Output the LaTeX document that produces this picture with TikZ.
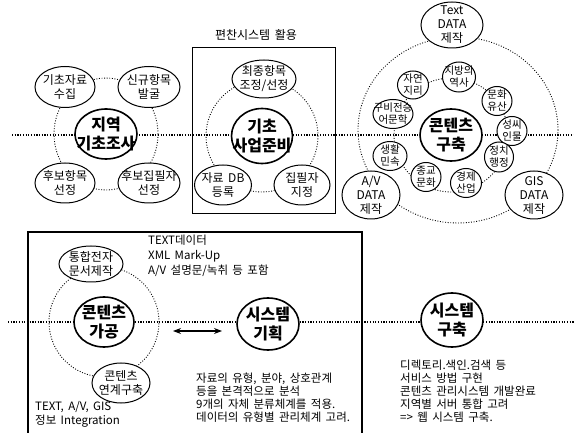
\documentclass[tikz,border=0pt]{standalone}
\usepackage{fontspec}
\setmainfont[WordSpace=1.7]{Noto Sans CJK KR}
\usetikzlibrary{shapes.geometric,arrows.meta}
\begin{document}
\begin{tikzpicture}[x=1pt,y=-1pt,
 dotline/.style={line width=1.2pt, dash pattern=on 1.2pt off 1.5pt},
 ring/.style={line width=0.9pt, dash pattern=on 0.9pt off 1.7pt},
 mainlab/.style={font=\fontsize{16}{19}\selectfont\bfseries, align=center, inner sep=0pt},
 mainnode/.style={ellipse, draw, fill=white, line width=1.6pt, inner sep=0pt, label={[mainlab]center:#1}},
 satlab/.style={font=\fontsize{12}{14}\selectfont, align=center, inner sep=0pt},
 sat/.style={ellipse, draw, fill=white, line width=1pt, inner sep=0pt, label={[satlab]center:#1}},
 smlab/.style={font=\fontsize{10.5}{12}\selectfont, align=center, inner sep=0pt},
 small/.style={ellipse, draw, fill=white, line width=1pt, inner sep=0pt, label={[smlab]center:#1}},
 txt/.style={font=\fontsize{11.5}{13}\selectfont, align=left, inner sep=0pt, anchor=north west},
 box/.style={draw, line width=1.3pt}
]
\useasboundingbox[fill=white] (0,0) rectangle (574,433);

% horizontal dotted axes
\coordinate (tl) at (12,135);
\coordinate (tr) at (574,135);
\coordinate (bl) at (8,322);
\coordinate (br) at (574,322);
\draw[dotline] (tl) -- (tr);
\draw[dotline] (bl) -- (br);

% ---------- group 1 ----------
\node[mainnode={지역\\기초조사}, minimum width=62pt, minimum height=50pt] (m1) at (106,134) {};
\draw[ring] (m1.center) ellipse [x radius=52pt, y radius=56pt];
\node[sat={기초자료\\수집}, minimum width=60pt, minimum height=41pt] (a1) at (65,87) {};
\node[sat={신규항목\\발굴}, minimum width=62pt, minimum height=41pt] (a2) at (149,87) {};
\node[sat={후보항목\\선정}, minimum width=60pt, minimum height=40pt] (a3) at (65,183) {};
\node[sat={후보집필자\\선정}, minimum width=62pt, minimum height=40pt] (a4) at (149,183) {};

% ---------- group 2 ----------
\node[box, anchor=north west, minimum width=143pt, minimum height=166pt] (box1) at (192,47) {};
\node[font=\fontsize{12}{14}\selectfont, inner sep=0pt] (box1t) at (256,35) {편찬시스템 활용};
\node[mainnode={기초\\사업준비}, minimum width=61pt, minimum height=55pt] (m2) at (262,136) {};
\draw[ring] (m2.center) circle [radius=56pt];
\node[sat={최종항목\\조정/선정}, minimum width=64pt, minimum height=38pt] (b1) at (264,79) {};
\node[sat={자료 DB\\등록}, minimum width=57pt, minimum height=40pt] (b2) at (223,185) {};
\node[sat={집필자\\지정}, minimum width=56pt, minimum height=40pt] (b3) at (302,185) {};

% ---------- group 3 ----------
\node[mainnode={콘텐츠\\구축}, minimum width=62pt, minimum height=52pt] (m3) at (451,135) {};
\coordinate (c3) at (458,130);
\draw[ring] (c3) ellipse [x radius=100pt, y radius=93pt];
\draw[ring] (m3.center) circle [radius=57pt];
\node[sat={Text\\DATA\\제작}, minimum width=62pt, minimum height=46pt] (c1) at (452,25) {};
\node[sat={A/V\\DATA\\제작}, minimum width=58pt, minimum height=48pt] (c2) at (371,195) {};
\node[sat={GIS\\DATA\\제작}, minimum width=58pt, minimum height=48pt] (c4) at (534,195) {};
\node[small={자연\\지리}, minimum width=31pt, minimum height=28pt] (s1) at (413,85) {};
\node[small={지방의\\역사}, minimum width=33pt, minimum height=30pt] (s2) at (459,77) {};
\node[small={문화\\유산}, minimum width=30pt, minimum height=29pt] (s3) at (497,101) {};
\node[small={구비전승\\어문학}, minimum width=40pt, minimum height=29pt] (s4) at (393,114) {};
\node[small={성씨\\인물}, minimum width=30pt, minimum height=29pt] (s5) at (512,131) {};
\node[small={생활\\민속}, minimum width=34pt, minimum height=29pt] (s6) at (390,156) {};
\node[small={정치\\행정}, minimum width=29pt, minimum height=30pt] (s7) at (499,157) {};
\node[small={종교\\문화}, minimum width=30pt, minimum height=29pt] (s8) at (426,177) {};
\node[small={경제\\산업}, minimum width=31pt, minimum height=29pt] (s9) at (466,183) {};

% ---------- bottom box ----------
\coordinate (b2a) at (28,433);
\coordinate (b2b) at (362,232);
\coordinate (b2c) at (362,433);
\draw[box] (b2a) |- (b2b) -- (b2c);

\node[mainnode={콘텐츠\\가공}, minimum width=60pt, minimum height=50pt] (m4) at (104,322) {};
\draw[ring] (m4.center) circle [radius=55pt];
\node[sat={통합전자\\문서제작}, minimum width=64pt, minimum height=36pt] (d1) at (91,264) {};
\node[sat={콘텐츠\\연계구축}, minimum width=58pt, minimum height=40pt] (d2) at (121,383) {};

\node[mainnode={시스템\\기획}, minimum width=62pt, minimum height=52pt] (m5) at (268,324) {};
\node[mainnode={시스템\\구축}, minimum width=62pt, minimum height=54pt] (m6) at (452,320) {};

\coordinate (arrL) at (173,331);
\coordinate (arrR) at (222,331);
\draw[line width=1.3pt, {Stealth[length=8pt,width=6pt]}-{Stealth[length=8pt,width=6pt]}] (arrL) -- (arrR);

\node[txt, font=\fontsize{11.5}{15}\selectfont] (t1) at (148,235) {TEXT데이터\\XML Mark-Up\\A/V 설명문/녹취 등 포함};
\node[txt, font=\fontsize{11.5}{14}\selectfont] (t2) at (35,401) {TEXT, A/V, GIS\\정보 Integration};
\node[txt] (t3) at (196,373) {자료의 유형, 분야, 상호관계\\등을 본격적으로 분석\\9개의 자체 분류체계를 적용.\\데이터의 유형별 관리체계 고려.};
\node[txt] (t4) at (400,360) {디렉토리.색인.검색 등\\서비스 방법 구현\\콘텐츠 관리시스템 개발완료\\지역별 서버 통합 고려\\=> 웹 시스템 구축.};
\end{tikzpicture}
\end{document}
